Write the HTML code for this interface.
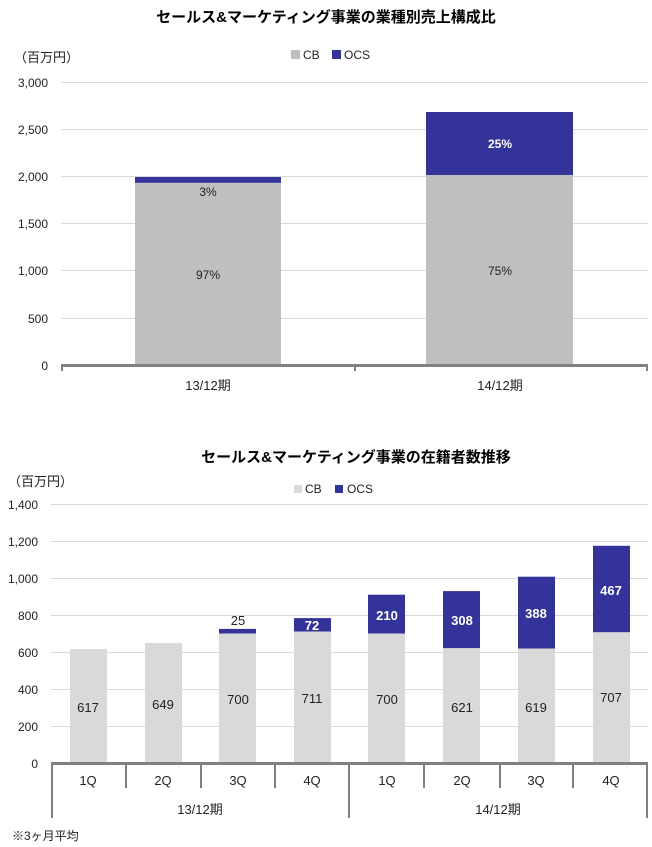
<!DOCTYPE html>
<html><head><meta charset="utf-8"><style>
body{margin:0;background:#fff;}
svg{display:block;font-family:"Liberation Sans","Noto Sans CJK JP",sans-serif;}
</style></head><body>
<svg width="652" height="847" viewBox="0 0 652 847" xmlns="http://www.w3.org/2000/svg">
<!-- Chart 1 -->
<text x="326" y="22" text-anchor="middle" font-size="15" font-weight="bold" fill="#000">セールス&amp;マーケティング事業の業種別売上構成比</text>
<text x="14" y="62" font-size="13" fill="#222">（百万円）</text>
<rect x="291" y="50" width="9" height="9" fill="#bfbfbf"/>
<text x="303" y="59" font-size="12" fill="#222">CB</text>
<rect x="332" y="50" width="9" height="9" fill="#333399"/>
<text x="344" y="59" font-size="12" fill="#222">OCS</text>
<g stroke="#d9d9d9" stroke-width="1">
<line x1="61" y1="82.5" x2="648" y2="82.5"/>
<line x1="61" y1="129.5" x2="648" y2="129.5"/>
<line x1="61" y1="176.5" x2="648" y2="176.5"/>
<line x1="61" y1="223.5" x2="648" y2="223.5"/>
<line x1="61" y1="270.5" x2="648" y2="270.5"/>
<line x1="61" y1="318.5" x2="648" y2="318.5"/>
</g>
<g font-size="12" fill="#222" text-anchor="end">
<text x="48" y="87">3,000</text>
<text x="48" y="134">2,500</text>
<text x="48" y="181">2,000</text>
<text x="48" y="228">1,500</text>
<text x="48" y="275">1,000</text>
<text x="48" y="323">500</text>
<text x="48" y="370">0</text>
</g>
<rect x="135" y="182.8" width="146" height="182.2" fill="#bfbfbf"/>
<rect x="135" y="177" width="146" height="5.8" fill="#333399"/>
<rect x="426" y="175" width="147" height="190" fill="#bfbfbf"/>
<rect x="426" y="112" width="147" height="63" fill="#333399"/>
<g font-size="12" text-anchor="middle">
<text x="208" y="196" fill="#222">3%</text>
<text x="208" y="279" fill="#222">97%</text>
<text x="500" y="148" fill="#fff" font-weight="bold">25%</text>
<text x="500" y="275" fill="#222">75%</text>
</g>
<line x1="61" y1="365.5" x2="648" y2="365.5" stroke="#808080" stroke-width="3"/>
<g stroke="#808080" stroke-width="2"><line x1="62" y1="365" x2="62" y2="371"/><line x1="355" y1="365" x2="355" y2="371"/><line x1="647" y1="365" x2="647" y2="371"/></g>
<g font-size="13" fill="#222" text-anchor="middle">
<text x="208" y="390">13/12期</text>
<text x="500" y="390">14/12期</text>
</g>
<!-- Chart 2 -->
<text x="356" y="462" text-anchor="middle" font-size="15" font-weight="bold" fill="#000">セールス&amp;マーケティング事業の在籍者数推移</text>
<text x="8" y="486" font-size="13" fill="#222">（百万円）</text>
<rect x="294" y="485" width="8" height="8" fill="#d9d9d9"/>
<text x="305" y="493" font-size="12" fill="#222">CB</text>
<rect x="335" y="485" width="8" height="8" fill="#333399"/>
<text x="347" y="493" font-size="12" fill="#222">OCS</text>
<g stroke="#d9d9d9" stroke-width="1">
<line x1="51" y1="504.5" x2="648" y2="504.5"/>
<line x1="51" y1="541.5" x2="648" y2="541.5"/>
<line x1="51" y1="578.5" x2="648" y2="578.5"/>
<line x1="51" y1="615.5" x2="648" y2="615.5"/>
<line x1="51" y1="652.5" x2="648" y2="652.5"/>
<line x1="51" y1="689.5" x2="648" y2="689.5"/>
<line x1="51" y1="726.5" x2="648" y2="726.5"/>
</g>
<g font-size="12" fill="#222" text-anchor="end">
<text x="38" y="509">1,400</text>
<text x="38" y="546">1,200</text>
<text x="38" y="583">1,000</text>
<text x="38" y="620">800</text>
<text x="38" y="657">600</text>
<text x="38" y="694">400</text>
<text x="38" y="731">200</text>
<text x="38" y="768">0</text>
</g>
<g fill="#d9d9d9">
<rect x="70" y="648.9" width="37" height="114.1"/>
<rect x="145" y="642.9" width="37" height="120.1"/>
<rect x="219" y="633.5" width="37" height="129.5"/>
<rect x="294" y="631.5" width="37" height="131.5"/>
<rect x="368" y="633.5" width="37" height="129.5"/>
<rect x="443" y="648.1" width="37" height="114.9"/>
<rect x="518" y="648.5" width="37" height="114.5"/>
<rect x="593" y="632.2" width="37" height="130.8"/>
</g>
<g fill="#333399">
<rect x="219" y="628.9" width="37" height="4.6"/>
<rect x="294" y="618.1" width="37" height="13.4"/>
<rect x="368" y="594.7" width="37" height="38.8"/>
<rect x="443" y="591.1" width="37" height="57"/>
<rect x="518" y="576.7" width="37" height="71.8"/>
<rect x="593" y="545.8" width="37" height="86.4"/>
</g>
<g font-size="13" fill="#222" text-anchor="middle">
<text x="88" y="712">617</text>
<text x="163" y="709">649</text>
<text x="238" y="704">700</text>
<text x="312" y="703">711</text>
<text x="387" y="704">700</text>
<text x="462" y="712">621</text>
<text x="536" y="712">619</text>
<text x="611" y="702">707</text>
<text x="238" y="625">25</text>
</g>
<g font-size="13" fill="#fff" font-weight="bold" text-anchor="middle">
<text x="312" y="630">72</text>
<text x="387" y="620">210</text>
<text x="462" y="625">308</text>
<text x="536" y="618">388</text>
<text x="611" y="595">467</text>
</g>
<line x1="51" y1="763.5" x2="648" y2="763.5" stroke="#808080" stroke-width="3"/>
<g stroke="#808080" stroke-width="2">
<line x1="52" y1="763" x2="52" y2="818"/>
<line x1="126" y1="763" x2="126" y2="788"/>
<line x1="201" y1="763" x2="201" y2="788"/>
<line x1="275" y1="763" x2="275" y2="788"/>
<line x1="349" y1="763" x2="349" y2="818"/>
<line x1="424" y1="763" x2="424" y2="788"/>
<line x1="500" y1="763" x2="500" y2="788"/>
<line x1="573" y1="763" x2="573" y2="788"/>
<line x1="647" y1="763" x2="647" y2="818"/>
</g>
<g font-size="13" fill="#222" text-anchor="middle">
<text x="88" y="785">1Q</text>
<text x="163" y="785">2Q</text>
<text x="238" y="785">3Q</text>
<text x="312" y="785">4Q</text>
<text x="387" y="785">1Q</text>
<text x="462" y="785">2Q</text>
<text x="536" y="785">3Q</text>
<text x="611" y="785">4Q</text>
<text x="200" y="814">13/12期</text>
<text x="498" y="814">14/12期</text>
</g>
<text x="12" y="840" font-size="12" fill="#222">※3ヶ月平均</text>
</svg>
</body></html>
